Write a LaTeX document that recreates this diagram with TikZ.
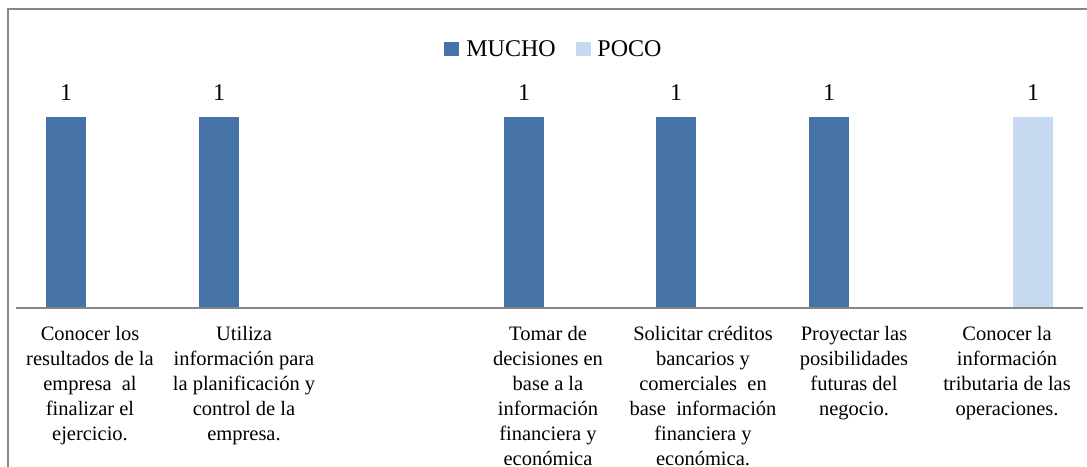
\documentclass[tikz,border=0pt]{standalone}
\usepackage{fontspec}
\setmainfont{Liberation Serif}
\definecolor{mucho}{RGB}{69,114,167}
\definecolor{poco}{RGB}{198,217,241}
\definecolor{axisgray}{RGB}{134,134,134}

\begin{document}
\begin{tikzpicture}[x=0.5pt,y=-0.5pt,
		catlabel/.style={anchor=north,align=center,inner sep=0pt,font=\fontsize{10.25}{12.5}\selectfont},
		barvalue/.style={anchor=base,inner sep=0pt,font=\fontsize{12}{14}\selectfont},
		legtext/.style={anchor=base west,inner sep=0pt,font=\fontsize{12}{14}\selectfont}]
		\useasboundingbox (0,0) rectangle (1087,466);
		\clip (0,0) rectangle (1087,466);
		\draw[axisgray, line width=1pt] (8,9) rectangle (1100,480);
		
		% legend
		\fill[mucho] (444,42) rectangle (459,56);
		\node[legtext] (legmucho) at (466,56.5) {MUCHO};
		\fill[poco] (576,42) rectangle (591,56);
		\node[legtext] (legpoco) at (597,56.5) {POCO};
		
		% bars
		\fill[mucho] (46,117) rectangle (86,308);
		\fill[mucho] (199,117) rectangle (239,308);
		\fill[mucho] (504,117) rectangle (544,308);
		\fill[mucho] (656,117) rectangle (696,308);
		\fill[mucho] (809,117) rectangle (849,308);
		\fill[poco] (1013,117) rectangle (1053,308);
		\draw[axisgray, line width=0.75pt] (16,308)--(1083,308);
		
		\node[barvalue] (val1) at (66,100) {1};
		\node[barvalue] (val2) at (219,100) {1};
		\node[barvalue] (val3) at (524,100) {1};
		\node[barvalue] (val4) at (676,100) {1};
		\node[barvalue] (val5) at (829,100) {1};
		\node[barvalue] (val6) at (1033,100) {1};
		
		% category labels
		\node[catlabel] (cat1) at (90,326) {Conocer los\\resultados de la\\empresa\ \ al\\finalizar el\\ejercicio.};
		\node[catlabel] (cat2) at (244,326) {Utiliza\\información para\\la planificación y\\control de la\\empresa.};
		\node[catlabel] (cat3) at (548,326) {Tomar de\\decisiones en\\base a la\\información\\financiera y\\económica};
		\node[catlabel] (cat4) at (703,326) {Solicitar créditos\\bancarios y\\comerciales\ \ en\\base\ \ información\\financiera y\\económica.};
		\node[catlabel] (cat5) at (854,326) {Proyectar las\\posibilidades\\futuras del\\negocio.};
		\node[catlabel] (cat6) at (1007,326) {Conocer la\\información\\tributaria de las\\operaciones.};
	\end{tikzpicture}
\end{document}
